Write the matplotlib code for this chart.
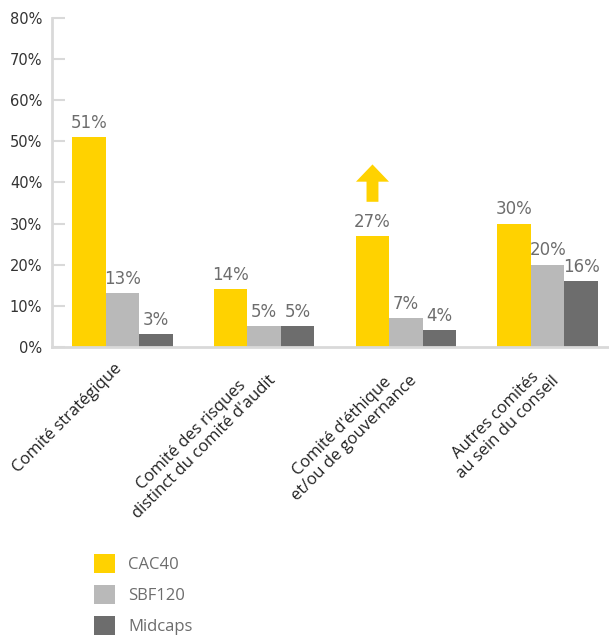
import numpy as np
import matplotlib
matplotlib.use("Agg")
import matplotlib.pyplot as plt
from matplotlib.patches import Patch, FancyArrow
from matplotlib.transforms import ScaledTranslation

categories = [
    "Comité stratégique",
    "Comité des risques\ndistinct du comité d'audit",
    "Comité d'éthique\net/ou de gouvernance",
    "Autres comités\nau sein du conseil",
]
series_names = ["CAC40", "SBF120", "Midcaps"]
cac40 = [51, 14, 27, 30]
sbf120 = [13, 5, 7, 20]
midcaps = [3, 5, 4, 16]
yticks = [0, 10, 20, 30, 40, 50, 60, 70, 80]

colors = ["#FFD200", "#B9B9B9", "#6D6D6D"]
axis_grey = "#D9D9D9"
label_grey = "#6D6D6D"

fig = plt.figure(figsize=(6.09, 6.35), dpi=100)
ax = fig.add_axes([52 / 609, 0.454, 557 / 609, 0.5172])

x = np.arange(len(categories))
w = 0.236
for i, (vals, col) in enumerate(zip([cac40, sbf120, midcaps], colors)):
    xs = x + (i - 1) * w
    ax.bar(xs, vals, width=w, color=col, edgecolor="none", zorder=2)
    for xi, v in zip(xs, vals):
        ax.text(xi, v + 1.3, f"{v}%", ha="center", va="bottom",
                fontsize=12, color=label_grey, family="DejaVu Sans")

# upward arrow above the CAC40 bar of the ethics committee
ax.add_patch(FancyArrow(x[2] - w, 35.3, 0, 9.1, width=0.084, head_width=0.233,
                        head_length=4.2, length_includes_head=True,
                        color=colors[0], linewidth=0))

ax.set_xlim(-0.4975, 3.433)
ax.set_ylim(0, 80)
ax.set_yticks(yticks)
ax.set_yticklabels([f"{t}%" for t in yticks], fontsize=10.5, color="#333333",
                   family="DejaVu Sans")
ax.tick_params(axis="y", direction="in", length=9.5, width=1.5, color=axis_grey, pad=7)

ax.set_xticks(x)
ax.set_xticklabels(categories, rotation=45, ha="right", va="top",
                   rotation_mode="anchor", multialignment="center",
                   fontsize=12, color="#222222", family="Open Sans",
                   linespacing=1.1)
ax.tick_params(axis="x", length=0, pad=10)
for lbl in ax.get_xticklabels():
    lbl.set_transform(lbl.get_transform() + ScaledTranslation(-9 / 100, 0, fig.dpi_scale_trans))

for side in ["top", "right"]:
    ax.spines[side].set_visible(False)
for side in ["left", "bottom"]:
    ax.spines[side].set_color(axis_grey)
    ax.spines[side].set_linewidth(2)

handles = [Patch(facecolor=c, edgecolor="none") for c in colors]
leg = fig.legend(handles, series_names, loc="upper left",
                 bbox_to_anchor=(79 / 609, 1 - 539 / 635), frameon=False,
                 handlelength=1.25, handleheight=1.35, handletextpad=0.8,
                 labelspacing=0.72, prop={"family": "Open Sans", "size": 12})
for t in leg.get_texts():
    t.set_color(label_grey)

fig.savefig("out.png", dpi=100)
